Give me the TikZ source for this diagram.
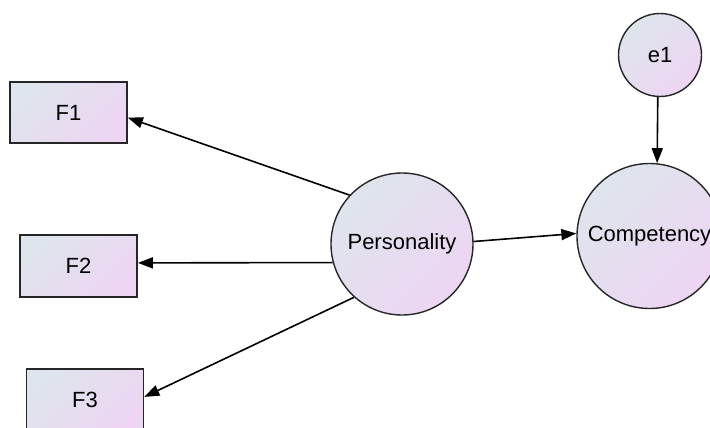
\documentclass[tikz,border=0pt]{standalone}
\usepackage{fontspec}
\setmainfont{Liberation Sans}
\usetikzlibrary{arrows.meta}
\definecolor{shadeA}{HTML}{DEE5EC}
\definecolor{shadeB}{HTML}{EDD5F3}
\tikzset{
  grad/.style={shading=axis, left color=shadeA, right color=shadeB, shading angle=45},
  obsbox/.style={draw=black!85, line width=1.7pt, grad, minimum width=117pt, minimum height=61pt, inner sep=0pt, font=\fontsize{22}{24}\selectfont},
  latent/.style={draw=black!85, line width=1.4pt, circle, grad, inner sep=0pt, font=\fontsize{22}{24}\selectfont},
  path/.style={line width=1.6pt, -{Triangle[length=15pt,width=11pt]}}
}
\begin{document}
\begin{tikzpicture}[x=1pt,y=-1pt]
  \useasboundingbox (0,0) rectangle (710,428);
  % observed indicators
  \node[obsbox] (F1) at (68.5,112.5) {F1};
  \node[obsbox, minimum height=62pt] (F2) at (78.5,266) {F2};
  \node[obsbox, minimum height=62pt] (F3) at (85,400) {F3};
  % latent variables
  \node[latent, minimum size=142pt] (P) at (402,244) {Personality};
  \node[latent, minimum size=145pt] (C) at (649.5,236) {Competency};
  \node[latent, minimum size=83pt] (E) at (660,55) {e1};
  % regression paths
  \draw[path] (P.137) -- (F1.-5);
  \draw[path] (P.195) -- (F2.3);
  \draw[path] (P.228) -- (F3.3);
  \draw[path] (P.2) -- (C.178);
  \draw[path] (E.267) -- (C.84);
\end{tikzpicture}
\end{document}
